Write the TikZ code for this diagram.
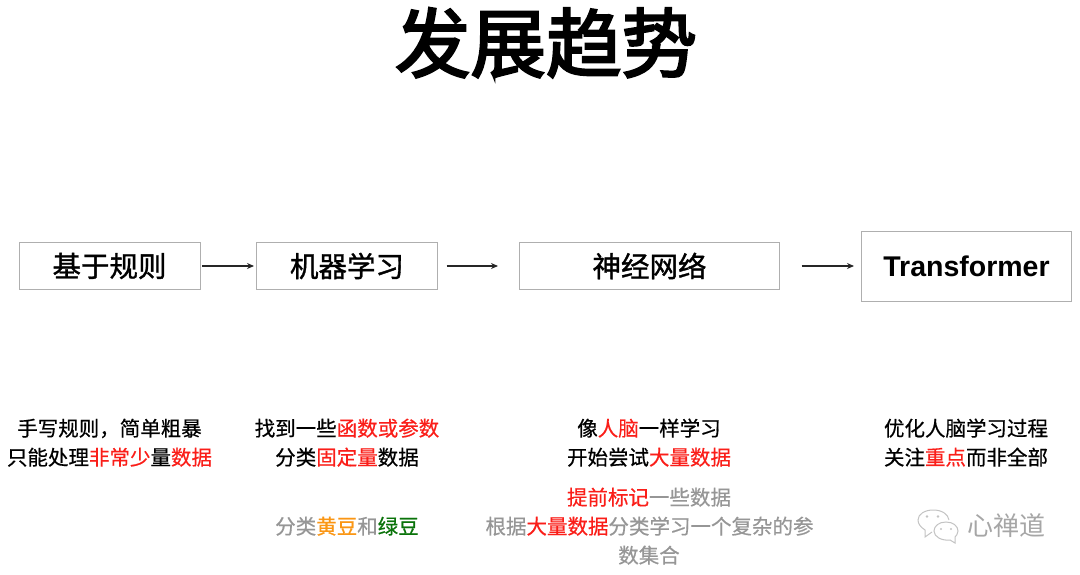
\documentclass[tikz,border=0pt]{standalone}
\usepackage{fontspec}
\setmainfont{Noto Sans CJK SC}
\newfontfamily\latinfont{Liberation Sans}
\newfontfamily\titlefont[FakeBold=3]{Noto Sans CJK SC}
\newfontfamily\boxfont[FakeBold=1.2]{Noto Sans CJK SC}
\newfontfamily\bodyfont[FakeBold=0.6]{Noto Sans CJK SC}
\definecolor{hl}{RGB}{250,30,25}
\definecolor{gr}{RGB}{150,150,150}
\definecolor{org}{RGB}{250,150,20}
\definecolor{grn}{RGB}{10,115,10}
\definecolor{boxc}{RGB}{175,175,175}
\definecolor{wm}{RGB}{195,195,195}
\newcommand{\R}[1]{\textcolor{hl}{#1}}
\newcommand{\OO}[1]{\textcolor{org}{#1}}
\newcommand{\GG}[1]{\textcolor{grn}{#1}}
\usetikzlibrary{arrows.meta}
\tikzset{
  stagebox/.style={draw=boxc,line width=1pt,inner sep=0pt,fill=white,text=black},
  stagetext/.style={font=\boxfont\fontsize{28.5}{30}\selectfont},
  flow/.style={-{Stealth[length=7pt,width=6pt]},line width=1.2pt,black!85},
  line1/.style={anchor=base,inner sep=0pt,font=\bodyfont\fontsize{20.5}{22}\selectfont,text=black},
  line2/.style={line1,text=gr},
}
\begin{document}
\begin{tikzpicture}[x=1pt,y=-1pt]
\useasboundingbox (0,0) rectangle (1080,575);
\node[anchor=base,inner sep=0pt,font=\titlefont\fontsize{75.5}{78}\selectfont] (title) at (546,71.5) {发展趋势};
\node[stagebox,stagetext,minimum width=181pt,minimum height=47pt] (b1) at (109.5,266) {基于规则};
\node[stagebox,stagetext,minimum width=181pt,minimum height=47pt] (b2) at (347,266) {机器学习};
\node[stagebox,stagetext,minimum width=260pt,minimum height=47pt] (b3) at (649.5,266) {神经网络};
\node[stagebox,minimum width=210pt,minimum height=69pt,font=\latinfont\bfseries\fontsize{28.5}{30}\selectfont] (b4) at (966.5,266.5) {Transformer};
\draw[flow,shorten <=1.5pt,shorten >=2pt] (b1.east |- 0,266) -- (b2.west |- 0,266);
\draw[flow,shorten <=8.5pt,shorten >=21pt] (b2.east |- 0,266) -- (b3.west |- 0,266);
\draw[flow,shorten <=21.5pt,shorten >=7pt] (b3.east |- 0,266) -- (b4.west |- 0,266);
\node[line1] (a1) at (109.5,436) {手写规则，简单粗暴};
\node[line1] (a2) at (109.5,465) {只能处理\R{非常少}量\R{数据}};
\node[line1] (c1) at (347,436) {找到一些\R{函数或参数}};
\node[line1] (c2) at (347,465) {分类\R{固定量}数据};
\node[line2] (c3) at (347,534) {分类\OO{黄豆}和\GG{绿豆}};
\node[line1] (d1) at (649,436) {像\R{人脑}一样学习};
\node[line1] (d2) at (649,465) {开始尝试\R{大量数据}};
\node[line2] (d3) at (649,505) {\R{提前标记}一些数据};
\node[line2] (d4) at (649.5,534) {根据\R{大量数据}分类学习一个复杂的参};
\node[line2] (d5) at (649,563) {数集合};
\node[line1] (e1) at (966,436) {优化人脑学习过程};
\node[line1] (e2) at (966,465) {关注\R{重点}而非全部};
% watermark
\begin{scope}[draw=wm,line width=1pt]
\draw (932,532) -- (925,537) -- (925,530) .. controls (920,527) and (918,523) .. (918,520) .. controls (918,514) and (925,510) .. (933,510) .. controls (942,510) and (948,514) .. (949,520);
\fill[wm] (927,516.5) circle (1.4pt) (938,516.5) circle (1.4pt);
\draw[fill=white] (946,522) .. controls (953,522) and (958,526) .. (958,531) .. controls (958,534) and (956,536) .. (955,537) -- (955,543) -- (950,540) .. controls (942,541) and (934,537) .. (934,531) .. controls (934,526) and (939,522) .. (946,522) -- cycle;
\fill[wm] (941,529) circle (1.2pt) (951,529) circle (1.2pt);
\end{scope}
\node[anchor=base,inner sep=0pt,font=\fontsize{26}{28}\selectfont,text=wm!85!black] (wmtext) at (1006,535) {心禅道};
\end{tikzpicture}
\end{document}
